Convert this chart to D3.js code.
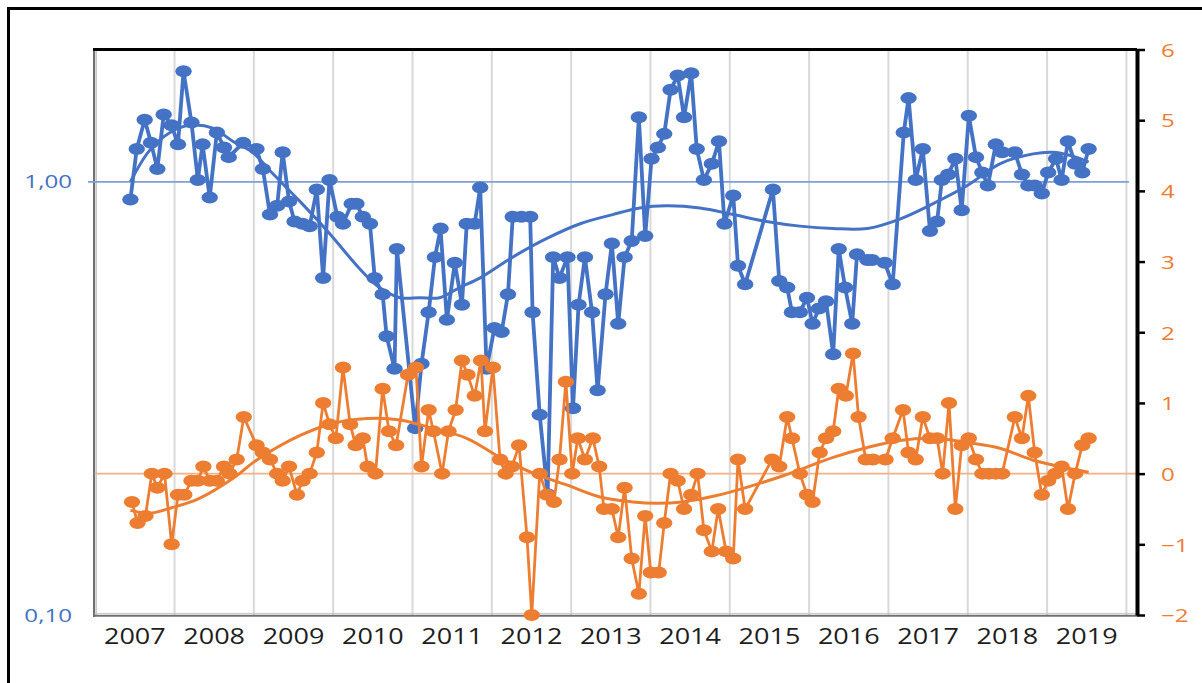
<!DOCTYPE html>
<html>
<head>
<meta charset="utf-8">
<script src="https://cdn.jsdelivr.net/npm/d3@7"></script>
<style>
html, body { margin: 0; padding: 0; background: #fff; }
svg { display: block; font-family: "Open Sans", sans-serif; }
</style>
</head>
<body>
<svg id="chart" width="1202" height="683"></svg>
<script>

// x labels and axis ticks
var years = [2007, 2008, 2009, 2010, 2011, 2012, 2013, 2014, 2015, 2016, 2017, 2018, 2019];
var leftTicks = [0.1, 1];
var rightTicks = [-2, -1, 0, 1, 2, 3, 4, 5, 6];

// blue series (left, log axis) - time in decimal years
var blueT = [
    2007.45, 2007.53, 2007.63, 2007.71, 2007.79, 2007.87, 2007.97, 2008.05, 2008.12, 2008.22,
    2008.30, 2008.36, 2008.45, 2008.54, 2008.63, 2008.69, 2008.87, 2009.04, 2009.12, 2009.21,
    2009.30, 2009.37, 2009.45, 2009.52, 2009.62, 2009.71, 2009.80, 2009.88, 2009.96, 2010.06,
    2010.13, 2010.24, 2010.30, 2010.38, 2010.47, 2010.53, 2010.63, 2010.68, 2010.78, 2010.81,
    2011.04, 2011.12, 2011.21, 2011.29, 2011.36, 2011.44, 2011.54, 2011.63, 2011.69, 2011.79,
    2011.86, 2011.94, 2012.04, 2012.13, 2012.21, 2012.27, 2012.38, 2012.49, 2012.52, 2012.61,
    2012.71, 2012.78, 2012.86, 2012.96, 2013.03, 2013.10, 2013.18, 2013.27, 2013.34, 2013.44,
    2013.52, 2013.60, 2013.68, 2013.77, 2013.86, 2013.94, 2014.02, 2014.10, 2014.18, 2014.26,
    2014.35, 2014.43, 2014.52, 2014.59, 2014.68, 2014.78, 2014.87, 2014.94, 2015.05, 2015.11,
    2015.20, 2015.55, 2015.63, 2015.73, 2015.79, 2015.89, 2015.98, 2016.05, 2016.13, 2016.22,
    2016.31, 2016.38, 2016.46, 2016.55, 2016.61, 2016.74, 2016.80, 2016.96, 2017.06, 2017.20,
    2017.26, 2017.35, 2017.44, 2017.53, 2017.62, 2017.68, 2017.76, 2017.85, 2017.93, 2018.02,
    2018.11, 2018.19, 2018.26, 2018.36, 2018.44, 2018.60, 2018.69, 2018.77, 2018.85, 2018.94,
    2019.02, 2019.12, 2019.19, 2019.27, 2019.36, 2019.45, 2019.53
];
var blueV = [
    0.91, 1.19, 1.39, 1.23, 1.07, 1.43, 1.35, 1.22, 1.80, 1.37,
    1.01, 1.22, 0.92, 1.30, 1.20, 1.14, 1.23, 1.19, 1.07, 0.84,
    0.88, 1.17, 0.90, 0.81, 0.80, 0.79, 0.96, 0.60, 1.01, 0.83,
    0.80, 0.89, 0.89, 0.83, 0.80, 0.60, 0.55, 0.44, 0.37, 0.70,
    0.27, 0.38, 0.50, 0.67, 0.78, 0.48, 0.65, 0.52, 0.80, 0.80,
    0.97, 0.37, 0.46, 0.45, 0.55, 0.83, 0.83, 0.83, 0.50, 0.29,
    0.19, 0.67, 0.60, 0.67, 0.30, 0.52, 0.67, 0.50, 0.33, 0.55,
    0.72, 0.47, 0.67, 0.73, 1.41, 0.75, 1.13, 1.20, 1.29, 1.63,
    1.76, 1.41, 1.78, 1.19, 1.01, 1.10, 1.24, 0.80, 0.93, 0.64,
    0.58, 0.96, 0.59, 0.57, 0.50, 0.50, 0.54, 0.47, 0.51, 0.53,
    0.40, 0.70, 0.57, 0.47, 0.68, 0.66, 0.66, 0.65, 0.58, 1.30,
    1.56, 1.01, 1.19, 0.77, 0.81, 1.01, 1.04, 1.13, 0.86, 1.42,
    1.14, 1.05, 0.98, 1.22, 1.17, 1.17, 1.04, 0.98, 0.98, 0.94,
    1.05, 1.13, 1.01, 1.24, 1.10, 1.05, 1.19
];

// orange series (right, linear axis)
var orangeT = [
    2007.47, 2007.54, 2007.64, 2007.72, 2007.79, 2007.88, 2007.97, 2008.05, 2008.13, 2008.22,
    2008.30, 2008.37, 2008.45, 2008.54, 2008.63, 2008.70, 2008.79, 2008.88, 2009.04, 2009.12,
    2009.21, 2009.30, 2009.37, 2009.45, 2009.55, 2009.62, 2009.71, 2009.80, 2009.88, 2009.96,
    2010.04, 2010.13, 2010.22, 2010.29, 2010.38, 2010.44, 2010.54, 2010.63, 2010.71, 2010.80,
    2010.95, 2011.05, 2011.12, 2011.21, 2011.27, 2011.38, 2011.46, 2011.55, 2011.63, 2011.70,
    2011.79, 2011.87, 2011.92, 2012.02, 2012.11, 2012.18, 2012.26, 2012.35, 2012.45, 2012.51,
    2012.61, 2012.70, 2012.79, 2012.86, 2012.94, 2013.02, 2013.09, 2013.18, 2013.28, 2013.36,
    2013.42, 2013.52, 2013.60, 2013.68, 2013.77, 2013.86, 2013.94, 2014.01, 2014.11, 2014.18,
    2014.26, 2014.35, 2014.43, 2014.52, 2014.60, 2014.68, 2014.78, 2014.86, 2014.96, 2015.05,
    2015.11, 2015.20, 2015.54, 2015.63, 2015.73, 2015.79, 2015.89, 2015.98, 2016.05, 2016.14,
    2016.22, 2016.31, 2016.38, 2016.47, 2016.56, 2016.63, 2016.72, 2016.81, 2016.97, 2017.06,
    2017.19, 2017.26, 2017.35, 2017.44, 2017.53, 2017.62, 2017.69, 2017.77, 2017.85, 2017.93,
    2018.02, 2018.11, 2018.19, 2018.27, 2018.36, 2018.44, 2018.60, 2018.69, 2018.77, 2018.85,
    2018.94, 2019.02, 2019.11, 2019.19, 2019.27, 2019.36, 2019.45, 2019.53
];
var orangeV = [
    -0.4, -0.7, -0.6, 0.0, -0.2, 0.0, -1.0, -0.3, -0.3, -0.1,
    -0.1, 0.1, -0.1, -0.1, 0.1, 0.0, 0.2, 0.8, 0.4, 0.3,
    0.2, 0.0, -0.1, 0.1, -0.3, -0.1, 0.0, 0.3, 1.0, 0.7,
    0.5, 1.5, 0.7, 0.4, 0.5, 0.1, 0.0, 1.2, 0.6, 0.4,
    1.4, 1.5, 0.1, 0.9, 0.6, 0.0, 0.6, 0.9, 1.6, 1.4,
    1.1, 1.6, 0.6, 1.5, 0.2, 0.0, 0.1, 0.4, -0.9, -2.0,
    0.0, -0.3, -0.4, 0.2, 1.3, 0.0, 0.5, 0.2, 0.5, 0.1,
    -0.5, -0.5, -0.9, -0.2, -1.2, -1.7, -0.6, -1.4, -1.4, -0.7,
    0.0, -0.1, -0.5, -0.3, 0.0, -0.8, -1.1, -0.5, -1.1, -1.2,
    0.2, -0.5, 0.2, 0.1, 0.8, 0.5, 0.0, -0.3, -0.4, 0.3,
    0.5, 0.6, 1.2, 1.1, 1.7, 0.8, 0.2, 0.2, 0.2, 0.5,
    0.9, 0.3, 0.2, 0.8, 0.5, 0.5, 0.0, 1.0, -0.5, 0.4,
    0.5, 0.2, 0.0, 0.0, 0.0, 0.0, 0.8, 0.5, 1.1, 0.3,
    -0.3, -0.1, 0.0, 0.1, -0.5, 0.0, 0.4, 0.5
];

// trend lines
var blueTrendT = [2007.45, 2007.69, 2007.95, 2008.20, 2008.49, 2008.74, 2008.99, 2009.21, 2009.59, 2009.96,
    2010.34, 2010.59, 2010.85, 2011.10, 2011.35, 2011.60, 2011.86, 2012.27, 2012.70, 2013.12,
    2013.53, 2013.87, 2014.21, 2014.63, 2015.05, 2015.47, 2015.89, 2016.31, 2016.74, 2017.15,
    2017.57, 2018.00, 2018.41, 2018.83, 2019.08, 2019.30, 2019.53];
var blueTrendV = [1.00, 1.18, 1.30, 1.35, 1.33, 1.24, 1.17, 1.06, 0.90, 0.76,
    0.63, 0.57, 0.54, 0.54, 0.54, 0.57, 0.60, 0.67, 0.74, 0.80,
    0.84, 0.87, 0.88, 0.87, 0.84, 0.81, 0.79, 0.78, 0.78, 0.82,
    0.89, 0.98, 1.10, 1.16, 1.17, 1.15, 1.11];
var orangeTrendT = [2007.45, 2007.69, 2007.98, 2008.32, 2008.74, 2009.04, 2009.59, 2010.00, 2010.43, 2010.85,
    2011.26, 2011.69, 2012.11, 2012.52, 2012.95, 2013.37, 2013.78, 2014.09, 2014.41, 2014.84,
    2015.26, 2015.68, 2016.31, 2016.74, 2017.15, 2017.57, 2018.00, 2018.41, 2018.83, 2019.26, 2019.53];
var orangeTrendV = [-0.52, -0.56, -0.48, -0.35, -0.07, 0.19, 0.54, 0.71, 0.78, 0.76,
    0.64, 0.50, 0.23, 0.01, -0.16, -0.33, -0.40, -0.42, -0.40, -0.31,
    -0.18, -0.03, 0.23, 0.37, 0.47, 0.50, 0.44, 0.36, 0.19, 0.08, 0.02];


(function () {

    var BLUE = '#4472C4';
    var ORANGE = '#ED7D31';

    var left = 94.7, right = 1137, top = 49.5, bottom = 615;

    var svg = d3.select('#chart');

    var x = d3.scaleLinear().domain([2007, 2020.14]).range([left, right]);
    var yL = d3.scaleLog().domain([0.1, 2.02]).range([bottom, top]);
    var yR = d3.scaleLinear().domain([-2, 6]).range([bottom, top]);

    function zip(ts, vs) {
        return ts.map(function (t, i) {
            return {t: t, v: vs[i]};
        });
    }

    var blue = zip(blueT, blueV);
    var orange = zip(orangeT, orangeV);
    var blueTrend = zip(blueTrendT, blueTrendV);
    var orangeTrend = zip(orangeTrendT, orangeTrendV);

    // outer frame
    svg.append('rect')
        .attr('x', 8.5).attr('y', 8.5)
        .attr('width', 1300).attr('height', 800)
        .attr('fill', 'none')
        .attr('stroke', '#000')
        .attr('stroke-width', 3);

    // vertical gridlines at year boundaries
    var grid = svg.append('g')
        .attr('transform', 'translate(0,' + bottom + ')')
        .call(d3.axisBottom(x)
            .tickValues(d3.range(2007, 2021))
            .tickSize(-(bottom - top))
            .tickFormat(''));
    grid.select('.domain').remove();
    grid.selectAll('line')
        .attr('stroke', '#d9d9d9')
        .attr('stroke-width', 2);

    // left / bottom plot border (gray double line)
    svg.append('line')
        .attr('x1', left - 0.7).attr('x2', left - 0.7)
        .attr('y1', top).attr('y2', bottom + 2)
        .attr('stroke', '#707070').attr('stroke-width', 2);
    svg.append('line')
        .attr('x1', left + 1.8).attr('x2', left + 1.8)
        .attr('y1', top).attr('y2', bottom)
        .attr('stroke', '#c8c8c8').attr('stroke-width', 1);
    svg.append('line')
        .attr('x1', left - 1.7).attr('x2', right)
        .attr('y1', bottom + 0.8).attr('y2', bottom + 0.8)
        .attr('stroke', '#707070').attr('stroke-width', 2);
    svg.append('line')
        .attr('x1', left).attr('x2', right)
        .attr('y1', bottom - 1.6).attr('y2', bottom - 1.6)
        .attr('stroke', '#c8c8c8').attr('stroke-width', 1);

    // reference lines at 1,00 and 0
    svg.append('line')
        .attr('x1', 88).attr('x2', x(2020) + 3)
        .attr('y1', yL(1)).attr('y2', yL(1))
        .attr('stroke', '#7c9fda').attr('stroke-width', 1.8);
    svg.append('line')
        .attr('x1', left).attr('x2', right)
        .attr('y1', yR(0)).attr('y2', yR(0))
        .attr('stroke', '#f4b183').attr('stroke-width', 1.6);

    var lineL = d3.line()
        .x(function (d) { return x(d.t); })
        .y(function (d) { return yL(d.v); });
    var lineR = d3.line()
        .x(function (d) { return x(d.t); })
        .y(function (d) { return yR(d.v); });

    // blue series
    svg.append('path')
        .datum(blue)
        .attr('d', lineL)
        .attr('fill', 'none')
        .attr('stroke', BLUE)
        .attr('stroke-width', 3.8)
        .attr('stroke-linejoin', 'round');
    svg.append('g')
        .selectAll('ellipse')
        .data(blue)
        .enter()
        .append('ellipse')
        .attr('cx', function (d) { return x(d.t); })
        .attr('cy', function (d) { return yL(d.v); })
        .attr('rx', 8.2).attr('ry', 6)
        .attr('fill', BLUE);
    svg.append('path')
        .datum(blueTrend)
        .attr('d', lineL.curve(d3.curveCatmullRom))
        .attr('fill', 'none')
        .attr('stroke', BLUE)
        .attr('stroke-width', 3);

    // orange series
    svg.append('path')
        .datum(orange)
        .attr('d', lineR)
        .attr('fill', 'none')
        .attr('stroke', ORANGE)
        .attr('stroke-width', 2.8)
        .attr('stroke-linejoin', 'round');
    svg.append('g')
        .selectAll('ellipse')
        .data(orange)
        .enter()
        .append('ellipse')
        .attr('cx', function (d) { return x(d.t); })
        .attr('cy', function (d) { return yR(d.v); })
        .attr('rx', 8.2).attr('ry', 6)
        .attr('fill', ORANGE);
    svg.append('path')
        .datum(orangeTrend)
        .attr('d', d3.line()
            .x(function (d) { return x(d.t); })
            .y(function (d) { return yR(d.v); })
            .curve(d3.curveCatmullRom))
        .attr('fill', 'none')
        .attr('stroke', ORANGE)
        .attr('stroke-width', 3);

    // top border
    svg.append('line')
        .attr('x1', left - 1.7).attr('x2', right)
        .attr('y1', top).attr('y2', top)
        .attr('stroke', '#000').attr('stroke-width', 3);

    // year labels
    var xAxis = svg.append('g')
        .attr('transform', 'translate(0,' + bottom + ')')
        .call(d3.axisBottom(x)
            .tickValues(years.map(function (y) { return y + 0.5; }))
            .tickSize(0)
            .tickFormat(function (d) { return String(Math.floor(d)); }));
    xAxis.select('.domain').remove();
    xAxis.selectAll('text')
        .attr('y', 0).attr('dy', null)
        .attr('transform', 'translate(0,28.6) scale(1.2,1)')
        .attr('font-size', 22.5)
        .attr('font-family', '"Open Sans", sans-serif')
        .attr('fill', '#1e1e1e');

    // left log axis
    var comma = d3.formatLocale({decimal: ',', thousands: '.', grouping: [3], currency: ['', '']}).format('.2f');
    var yAxisL = svg.append('g')
        .attr('transform', 'translate(' + left + ',0)')
        .call(d3.axisLeft(yL).tickValues(leftTicks).tickSize(0).tickFormat(comma));
    yAxisL.select('.domain').remove();
    yAxisL.selectAll('text')
        .attr('x', 0).attr('dy', null)
        .attr('transform', 'translate(-22.7,6.2) scale(1.38,1)')
        .attr('font-size', 17.5)
        .attr('font-family', '"Open Sans", sans-serif')
        .attr('fill', BLUE);

    // right linear axis
    var yAxisR = svg.append('g')
        .attr('transform', 'translate(' + right + ',0)')
        .call(d3.axisRight(yR).tickValues(rightTicks).tickSize(8).tickSizeOuter(0));
    yAxisR.select('.domain')
        .attr('stroke', '#000')
        .attr('stroke-width', 4);
    yAxisR.selectAll('.tick line')
        .attr('stroke', '#000')
        .attr('stroke-width', 2.5);
    yAxisR.selectAll('text')
        .attr('x', 0).attr('dy', null)
        .attr('transform', 'translate(24,6.8) scale(1.38,1)')
        .attr('font-size', 17.5)
        .attr('font-family', '"Open Sans", sans-serif')
        .attr('fill', ORANGE);

})();
</script>
</body>
</html>
